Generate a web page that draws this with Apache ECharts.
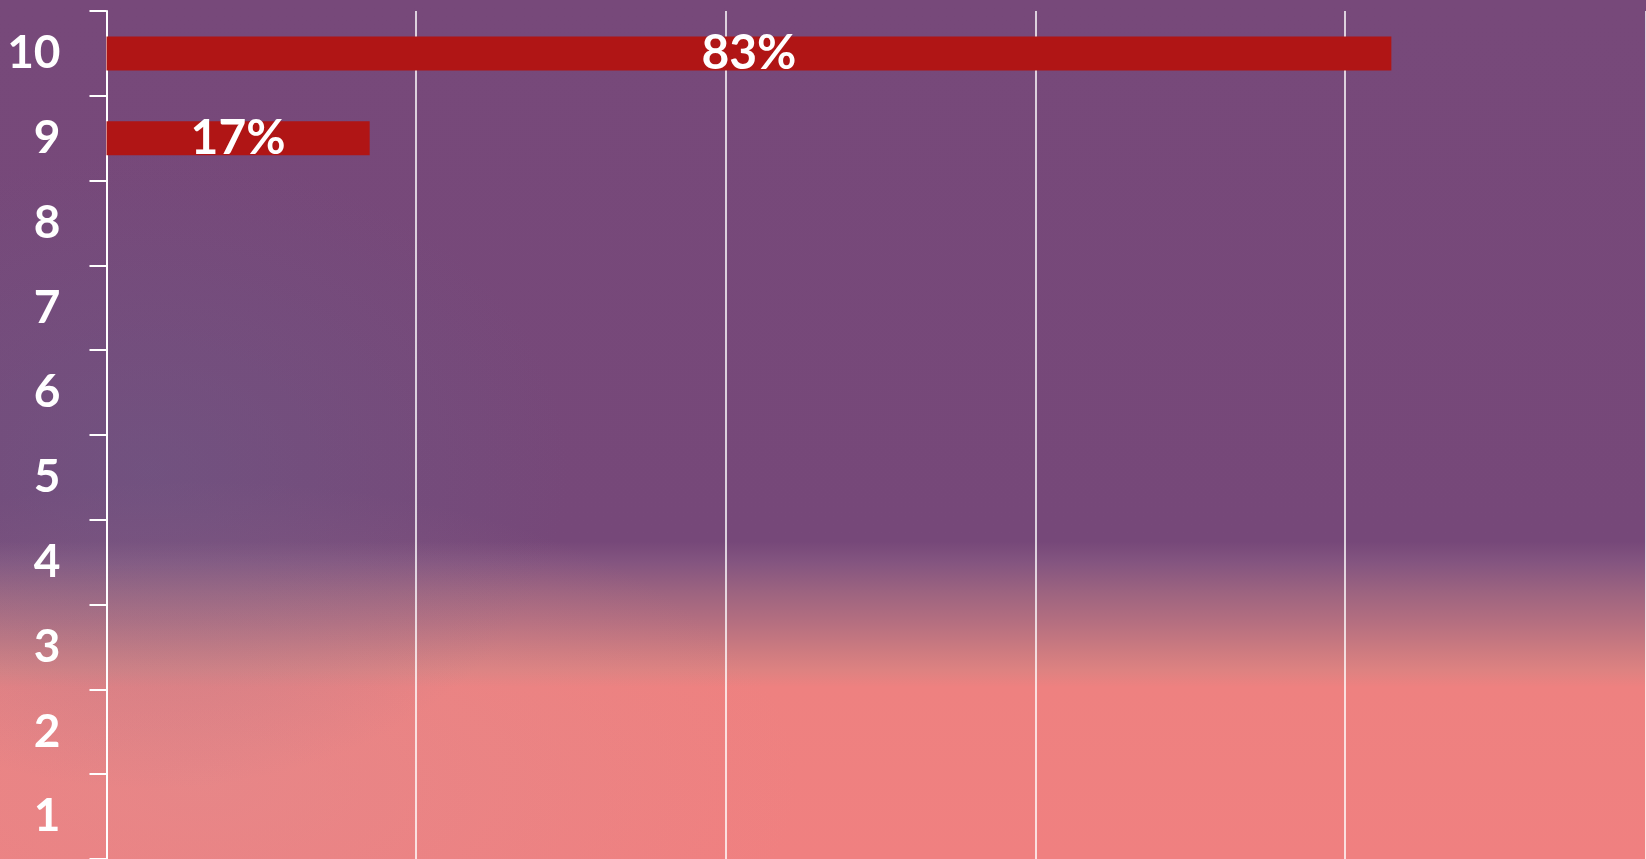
<!DOCTYPE html>
<html>
<head>
<meta charset="utf-8">
<script src="https://cdn.jsdelivr.net/npm/echarts@6/dist/echarts.min.js"></script>
<style>
html, body { margin:0; padding:0; width:1646px; height:859px; overflow:hidden; }
body {
  background:
    radial-gradient(ellipse 420px 320px at 150px 470px, rgba(105,100,140,0.35), rgba(105,100,140,0) 100%),
    radial-gradient(ellipse 600px 300px at 200px 780px, rgba(215,145,150,0.35), rgba(215,145,150,0) 100%),
    linear-gradient(to bottom, #77497a 0%, #764879 63%, #845580 65.5%, #9d6480 69%, #b56f80 72.5%, #cb7a80 75.5%, #dd8281 78%, #ee8180 80%, #f08080 100%);
}
#chart { width:1646px; height:859px; }
</style>
</head>
<body>
<div id="chart"></div>
<script>
const categories = ['1','2','3','4','5','6','7','8','9','10'];
const values = [null, null, null, null, null, null, null, null, 17, 83];
const axisMin = 0;
const axisMax = 99.45;   // visible part of the 0-100 scale
const tickStep = 20;

const chart = echarts.init(document.getElementById('chart'), null, { renderer: 'canvas' });
chart.setOption({
  backgroundColor: 'transparent',
  animation: false,
  grid: { left: 106.5, right: 0, top: 11, bottom: 0, containLabel: false },
  xAxis: {
    type: 'value',
    min: axisMin,
    max: axisMax,
    interval: tickStep,
    axisLine: { show: false },
    axisTick: { show: false },
    axisLabel: { show: false },
    splitLine: { show: true, lineStyle: { color: '#ffffff', width: 1.5 } }
  },
  yAxis: {
    type: 'category',
    data: categories,
    axisLine: { show: true, lineStyle: { color: '#ffffff', width: 2 } },
    axisTick: { show: true, length: 17, lineStyle: { color: '#ffffff', width: 2 } },
    axisLabel: {
      color: '#ffffff',
      fontFamily: 'Lato, "DejaVu Sans", sans-serif',
      fontWeight: 'bold',
      fontSize: 46,
      margin: 46
    },
    splitLine: { show: false }
  },
  series: [{
    type: 'bar',
    data: values,
    barWidth: 34,
    itemStyle: { color: '#b01515' },
    label: {
      show: true,
      position: 'inside',
      color: '#ffffff',
      fontFamily: 'Lato, "DejaVu Sans", sans-serif',
      fontWeight: 'bold',
      fontSize: 48,
      formatter: p => p.value == null ? '' : p.value + '%'
    }
  }]
});
</script>
</body>
</html>
